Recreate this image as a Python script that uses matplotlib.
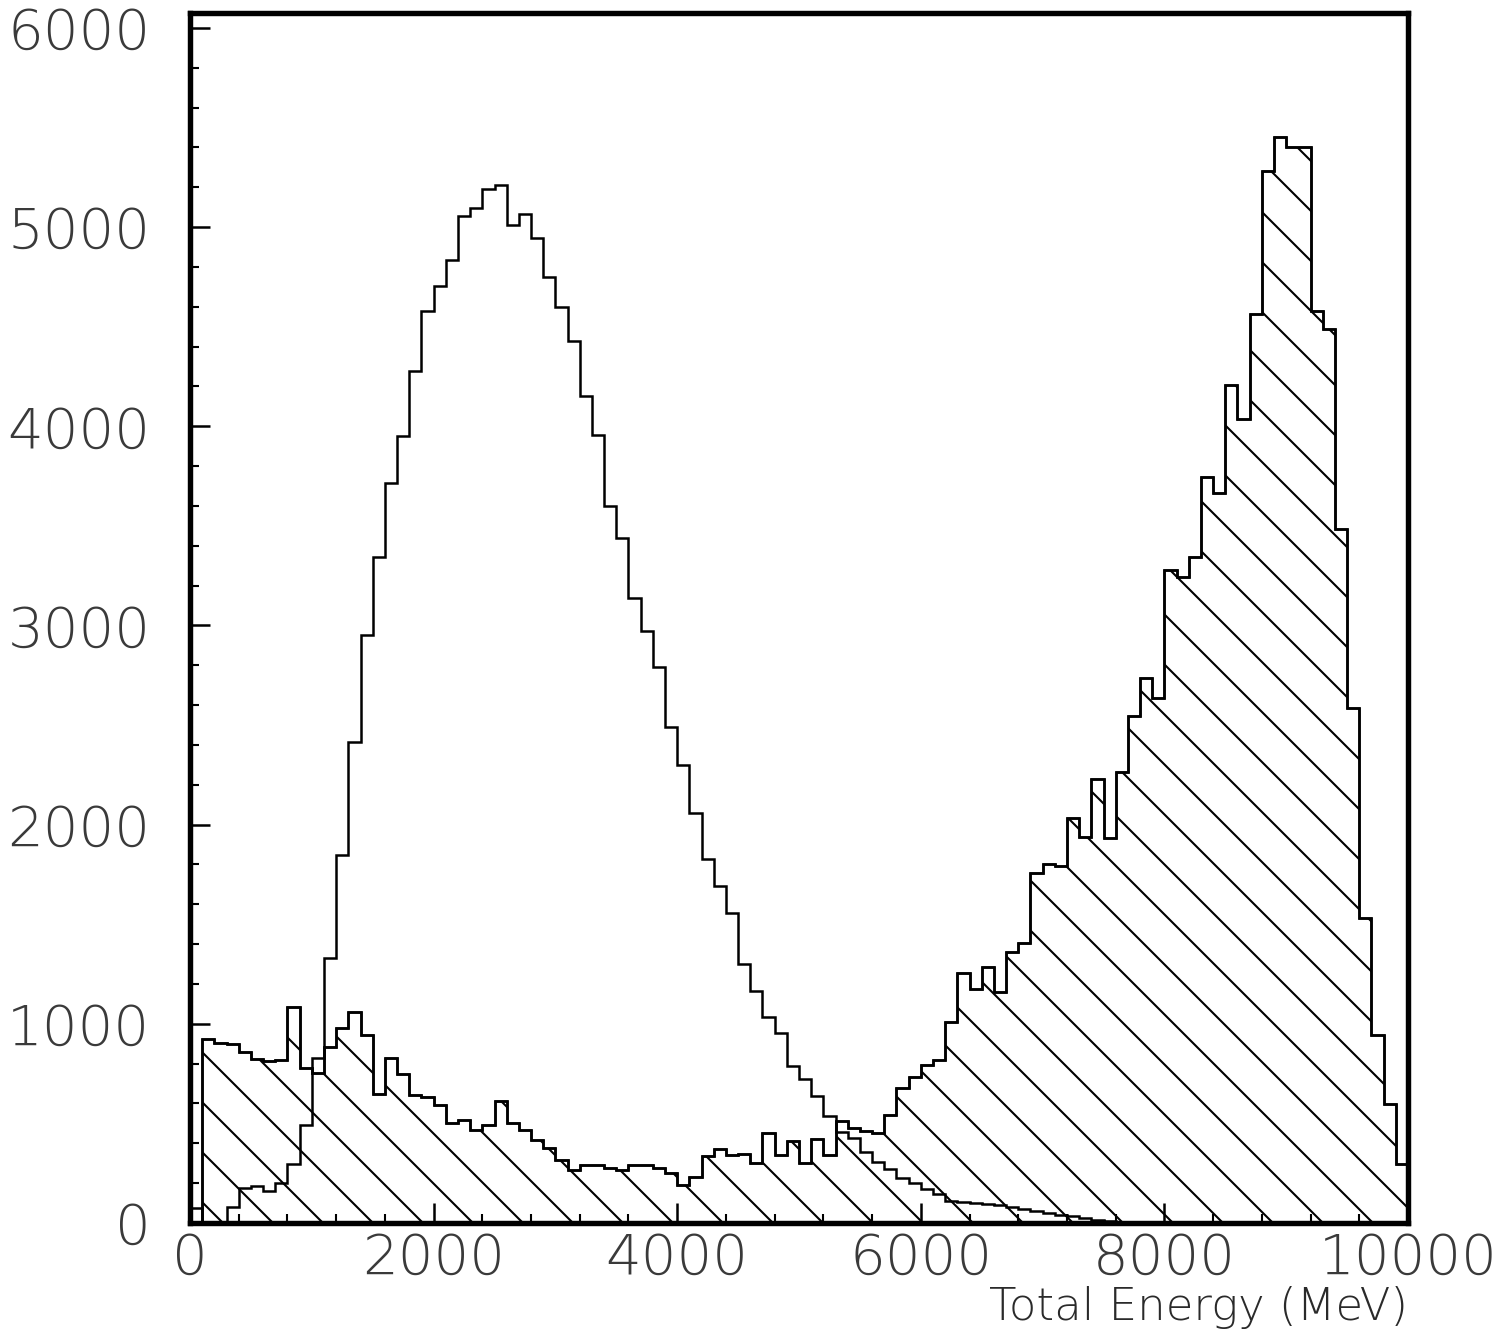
import numpy as np
import matplotlib
matplotlib.use("Agg")
import matplotlib.pyplot as plt
from matplotlib.ticker import MultipleLocator

# ---- data: 100 bins of 100 MeV from 0 to 10000 MeV ----
bin_edges = np.arange(0, 10001, 100)

open_counts = [
    75, 0, 0, 79, 174, 188, 160, 202, 295, 490,
    830, 1330, 1850, 2415, 2950, 3345, 3715, 3950, 4277, 4578,
    4705, 4834, 5055, 5097, 5189, 5211, 5010, 5065, 4945, 4750,
    4598, 4429, 4152, 3956, 3600, 3440, 3140, 2970, 2790, 2490,
    2300, 2060, 1830, 1690, 1555, 1300, 1165, 1033, 952, 790,
    725, 640, 538, 457, 427, 358, 304, 270, 228, 200,
    170, 145, 112, 105, 99, 95, 90, 80, 70, 60,
    50, 42, 35, 25, 15, 10, 6, 4, 3, 2,
    0, 0, 0, 0, 0, 0, 0, 0, 0, 0,
    0, 0, 0, 0, 0, 0, 0, 0, 0, 0,
]

hatched_counts = [
    0, 922, 902, 899, 860, 822, 815, 818, 1086, 776,
    755, 885, 981, 1059, 942, 649, 830, 750, 641, 632,
    591, 502, 517, 467, 492, 615, 500, 467, 417, 376,
    316, 266, 291, 291, 276, 266, 291, 291, 276, 250,
    191, 233, 336, 370, 341, 346, 300, 450, 341, 413,
    300, 420, 341, 514, 475, 463, 450, 542, 680, 735,
    793, 818, 1011, 1253, 1173, 1287, 1161, 1362, 1407, 1755,
    1800, 1790, 2031, 1936, 2227, 1931, 2266, 2543, 2734, 2636,
    3277, 3244, 3346, 3745, 3664, 4207, 4038, 4564, 5281, 5450,
    5403, 5403, 4581, 4490, 3483, 2586, 1532, 946, 599, 294,
]

x_ticks = [0, 2000, 4000, 6000, 8000, 10000]
y_ticks = [0, 1000, 2000, 3000, 4000, 5000, 6000]
x_label = "Total Energy (MeV)"

# ---- figure ----
DPI = 300
W, H = 1507, 1333
plt.rcParams["font.family"] = ["DejaVu Sans"]
plt.rcParams["hatch.linewidth"] = 0.5
fig = plt.figure(figsize=(W / DPI, H / DPI), dpi=DPI)
fig.patch.set_facecolor("white")

left, right = 190 / W, 1408 / W
bottom, top = 1 - 1223 / H, 1 - 13 / H
ax = fig.add_axes([left, bottom, right - left, top - bottom])

ax.stairs(hatched_counts, bin_edges, baseline=0, fill=True,
          facecolor="none", edgecolor="black", hatch="\\\\", linewidth=0.6)
ax.stairs(hatched_counts, bin_edges, baseline=0, fill=False,
          color="black", linewidth=0.6)
ax.stairs(open_counts, bin_edges, baseline=0, fill=False,
          color="black", linewidth=0.6)

ax.set_xlim(0, 10000)
ax.set_ylim(0, 6075)

ax.set_xticks(x_ticks)
ax.set_yticks(y_ticks)
ax.xaxis.set_minor_locator(MultipleLocator(400))
ax.yaxis.set_minor_locator(MultipleLocator(200))
ax.tick_params(which="major", direction="in", length=4.8, width=0.6,
               labelsize=13.5)
ax.tick_params(which="minor", direction="in", length=2.2, width=0.5)
ax.tick_params(axis="x", which="major", pad=2.0)
ax.tick_params(axis="y", which="major", pad=9.5)
for lab in ax.get_xticklabels() + ax.get_yticklabels():
    lab.set_fontweight("light")
    lab.set_color("#3a3a3a")

for sp in ax.spines.values():
    sp.set_linewidth(1.3)

ax.set_xlabel(x_label, loc="right", fontsize=10.8, labelpad=0,
              fontweight="light", color="#2a2a2a")

fig.savefig("out.png", dpi=DPI, facecolor="white")
